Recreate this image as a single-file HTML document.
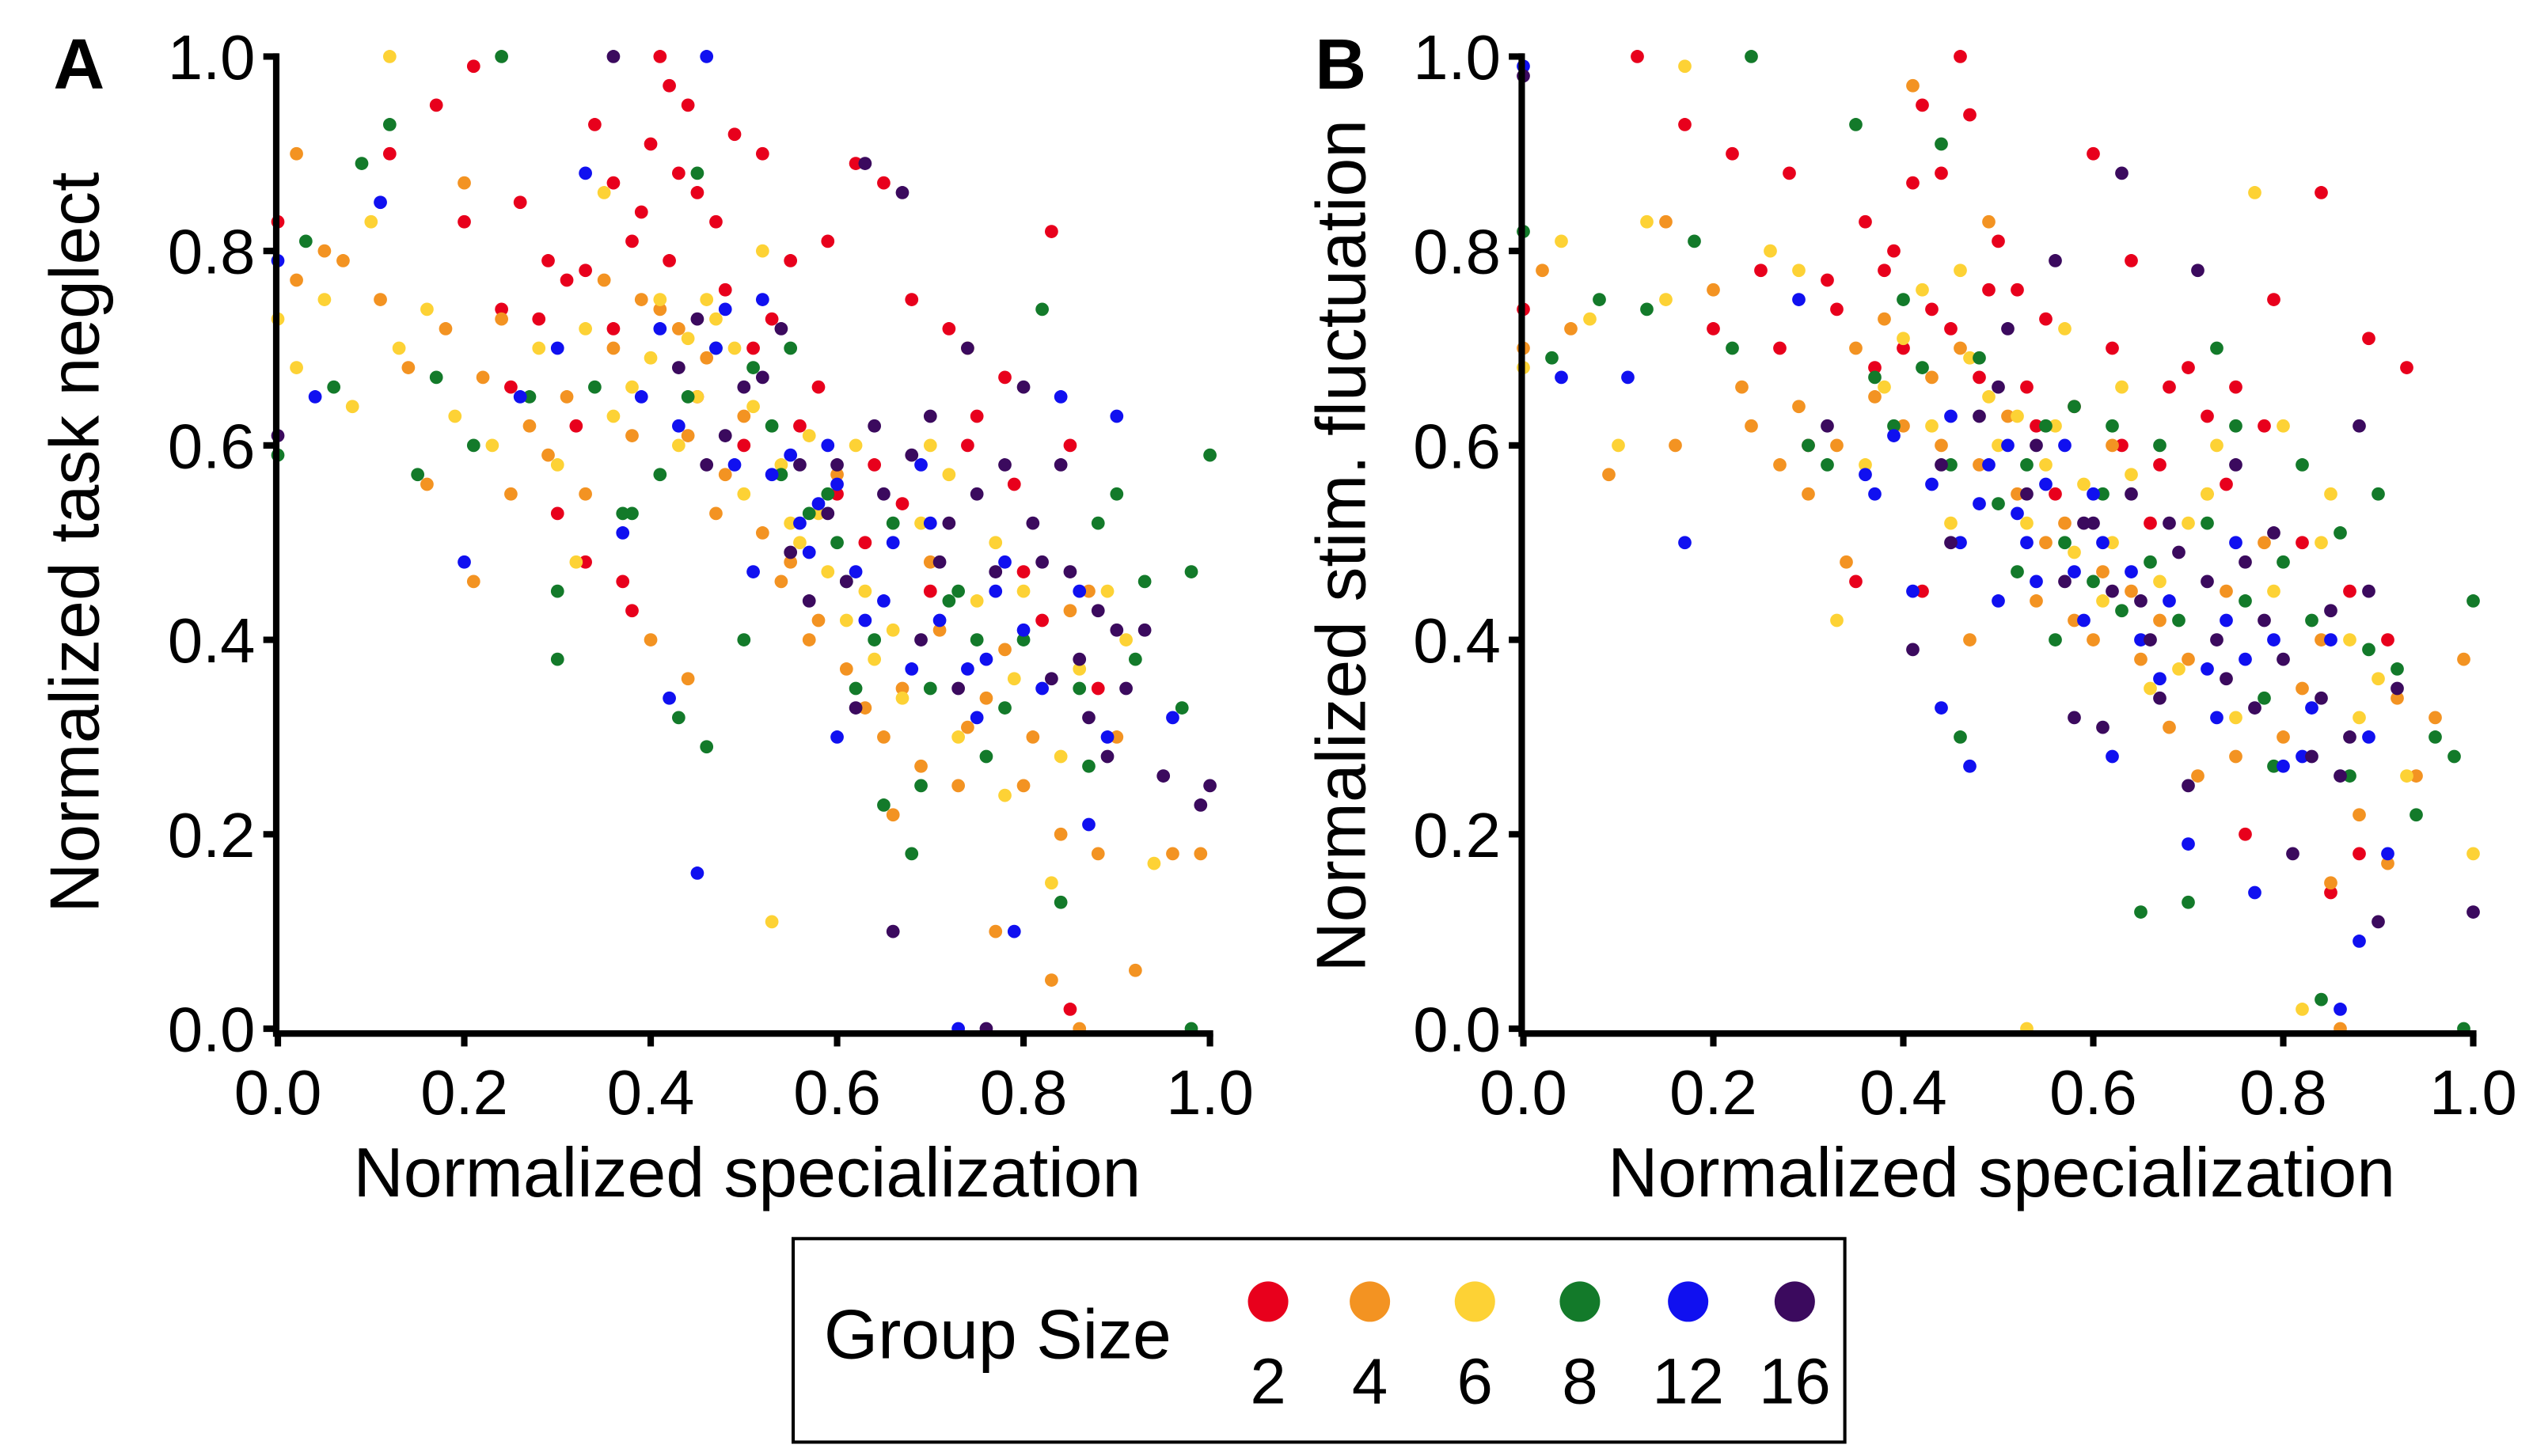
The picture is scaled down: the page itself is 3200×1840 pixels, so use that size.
<!DOCTYPE html>
<html><head><meta charset="utf-8"><style>
html,body{margin:0;padding:0;background:#fff}
svg{display:block}
text{font-family:"Liberation Sans",Arial,sans-serif;fill:#000}
</style></head><body>
<svg id="chart" width="3200" height="1840" viewBox="0 0 1568 901.6" xmlns="http://www.w3.org/2000/svg">
<g id="panelA"></g>
<g id="panelB"></g>
<g id="legend">
<rect x="491" y="767" width="651" height="126" fill="#fff" stroke="#000" stroke-width="2"/>
<text x="510" y="841" font-size="43">Group Size</text>
</g>
</svg>
<script>
const groupLabels = ["2","4","6","8","12","16"];
const groupColors = ["#e8001c","#f39322","#fdd235","#137a2a","#1010f0","#3b0a5e"];
const tickValues = [0,0.2,0.4,0.6,0.8,1.0];
const tickLabels = ["0.0","0.2","0.4","0.6","0.8","1.0"];

const panelA_g2 = [[0,.83],[.17,.95],[.21,.99],[.26,.85],[.29,.79],[.31,.77],[.34,.93],[.36,.87],[.38,.81],[.40,.91],[.41,1.0],[.42,.97],[.44,.95],[.45,.86],[.47,.83],[.49,.92],[.52,.90],[.55,.79],[.59,.81],[.62,.89],[.65,.87],[.68,.75],[.72,.72],[.75,.63],[.78,.67],[.83,.82],[.85,.60],[.53,.73],[.37,.46],[.30,.53],[.33,.48],[.38,.43],[.45,.65],[.50,.60],[.60,.55],[.63,.50],[.70,.45],[.80,.47],[.85,.02],[.58,.66],[.24,.74],[.28,.73],[.33,.78],[.36,.72],[.39,.84],[.42,.79],[.43,.88],[.48,.76],[.51,.70],[.56,.62],[.64,.58],[.67,.54],[.74,.60],[.79,.56],[.82,.42],[.88,.35],[.25,.66],[.32,.62],[.20,.83],[.12,.90]];
const panelA_g4 = [[.02,.77],[.05,.80],[.11,.75],[.16,.56],[.18,.72],[.20,.87],[.22,.67],[.24,.73],[.27,.62],[.31,.65],[.33,.55],[.36,.70],[.38,.61],[.40,.40],[.43,.72],[.46,.69],[.48,.57],[.52,.51],[.55,.48],[.58,.42],[.61,.37],[.63,.33],[.66,.22],[.69,.27],[.71,.41],[.74,.31],[.77,.10],[.80,.25],[.83,.05],[.85,.43],[.88,.18],[.92,.06],[.96,.18],[.99,.18],[.86,0],[.78,.39],[.67,.35],[.25,.55],[.21,.46],[.44,.36],[.02,.90],[.07,.79],[.14,.68],[.29,.59],[.35,.77],[.39,.75],[.41,.74],[.44,.61],[.47,.53],[.50,.63],[.54,.46],[.57,.40],[.60,.57],[.65,.30],[.70,.48],[.73,.25],[.76,.34],[.81,.30],[.84,.20],[.87,.45],[.90,.30]];
const panelA_g6 = [[0,.73],[.02,.68],[.08,.64],[.12,1.0],[.13,.70],[.19,.63],[.28,.70],[.32,.48],[.35,.86],[.38,.66],[.41,.75],[.44,.71],[.46,.75],[.49,.70],[.52,.80],[.53,.11],[.55,.52],[.57,.61],[.59,.47],[.61,.42],[.64,.38],[.67,.34],[.69,.52],[.72,.57],[.74,.70],[.77,.50],[.80,.45],[.83,.15],[.86,.37],[.89,.45],[.94,.17],[.45,.65],[.50,.55],[.62,.60],[.73,.30],[.30,.58],[.05,.75],[.10,.83],[.16,.74],[.23,.60],[.33,.72],[.36,.63],[.40,.69],[.43,.60],[.47,.73],[.51,.64],[.54,.58],[.56,.50],[.58,.53],[.63,.45],[.66,.41],[.70,.60],[.75,.44],[.79,.36],[.84,.28],[.91,.40],[.78,.24]];
const panelA_g8 = [[0,.59],[.03,.81],[.09,.89],[.12,.93],[.15,.57],[.17,.67],[.21,.60],[.24,1.0],[.27,.65],[.30,.38],[.34,.66],[.38,.53],[.41,.57],[.45,.88],[.46,.29],[.50,.40],[.51,.68],[.54,.57],[.57,.53],[.60,.50],[.62,.35],[.65,.23],[.68,.18],[.72,.44],[.75,.40],[.78,.33],[.82,.74],[.84,.13],[.87,.27],[.90,.55],[.93,.46],[.97,.33],[.98,.47],[1.0,.59],[.98,0],[.43,.32],[.55,.70],[.06,.66],[.30,.45],[.37,.53],[.44,.65],[.47,.70],[.53,.62],[.59,.55],[.61,.46],[.64,.40],[.66,.52],[.70,.35],[.73,.45],[.76,.28],[.80,.40],[.86,.35],[.88,.52],[.92,.38],[.69,.25]];
const panelA_g12 = [[0,.79],[.04,.65],[.11,.85],[.20,.48],[.26,.65],[.33,.88],[.37,.51],[.39,.65],[.42,.34],[.45,.16],[.46,1.0],[.47,.70],[.49,.58],[.52,.75],[.55,.59],[.58,.54],[.60,.56],[.62,.47],[.65,.44],[.68,.37],[.70,.52],[.73,0],[.75,.32],[.77,.45],[.80,.41],[.84,.65],[.87,.21],[.90,.63],[.96,.32],[.60,.30],[.74,.37],[.79,.10],[.51,.47],[.43,.62],[.30,.70],[.41,.72],[.48,.74],[.53,.57],[.56,.52],[.57,.49],[.59,.60],[.63,.42],[.66,.50],[.71,.42],[.76,.38],[.78,.48],[.82,.35],[.86,.45],[.89,.30],[.69,.58]];
const panelA_g16 = [[0,.61],[.36,1.0],[.43,.68],[.46,.58],[.48,.61],[.50,.66],[.54,.72],[.56,.58],[.59,.53],[.61,.46],[.63,.89],[.64,.62],[.66,.10],[.68,.59],[.70,.63],[.72,.52],[.74,.70],[.76,0],[.78,.58],[.80,.66],[.82,.48],[.84,.58],[.86,.38],[.88,.43],[.90,.41],[.93,.41],[.95,.26],[.99,.23],[1.0,.25],[.67,.86],[.55,.49],[.62,.33],[.45,.73],[.52,.67],[.57,.44],[.60,.58],[.65,.55],[.69,.40],[.71,.48],[.75,.55],[.77,.47],[.81,.52],[.83,.36],[.85,.47],[.87,.32],[.89,.28],[.91,.35],[.73,.35]];

const panelB_g2 = [[0,.74],[.12,1.0],[.17,.93],[.22,.90],[.25,.78],[.28,.88],[.32,.77],[.36,.83],[.38,.78],[.40,.70],[.41,.87],[.42,.95],[.44,.88],[.46,1.0],[.47,.94],[.50,.81],[.52,.76],[.55,.73],[.60,.90],[.62,.70],[.64,.79],[.68,.66],[.72,.63],[.75,.66],[.79,.75],[.84,.86],[.89,.71],[.93,.68],[.35,.46],[.42,.45],[.48,.67],[.56,.55],[.66,.52],[.76,.20],[.85,.14],[.88,.18],[.30,.60],[.54,.62],[.20,.72],[.27,.70],[.33,.74],[.37,.68],[.39,.80],[.43,.74],[.45,.72],[.49,.76],[.53,.66],[.58,.64],[.63,.60],[.67,.58],[.70,.68],[.74,.56],[.78,.62],[.82,.50],[.87,.45],[.91,.40]];
const panelB_g4 = [[0,.70],[.05,.72],[.09,.57],[.16,.60],[.20,.76],[.24,.62],[.27,.58],[.30,.55],[.34,.48],[.38,.73],[.41,.97],[.44,.60],[.47,.40],[.49,.83],[.52,.55],[.55,.50],[.58,.42],[.61,.47],[.65,.38],[.68,.31],[.71,.26],[.75,.28],[.78,.50],[.82,.35],[.85,.15],[.88,.22],[.91,.17],[.94,.26],[.96,.32],[.99,.38],[.86,0],[.35,.70],[.46,.70],[.62,.60],[.72,.55],[.02,.78],[.15,.83],[.23,.66],[.29,.64],[.33,.60],[.37,.65],[.40,.62],[.43,.67],[.48,.58],[.51,.63],[.54,.44],[.57,.52],[.60,.40],[.64,.45],[.67,.42],[.70,.38],[.74,.45],[.80,.30],[.84,.40],[.92,.34]];
const panelB_g6 = [[0,.68],[.04,.81],[.10,.60],[.13,.83],[.17,.99],[.26,.80],[.33,.42],[.36,.58],[.40,.71],[.43,.62],[.46,.78],[.49,.65],[.52,.63],[.53,0],[.55,.58],[.58,.49],[.61,.44],[.63,.66],[.66,.35],[.69,.37],[.72,.55],[.75,.32],[.77,.86],[.80,.62],[.84,.50],[.87,.40],[.90,.36],[.93,.26],[1.0,.18],[.82,.02],[.45,.52],[.57,.72],[.07,.73],[.15,.75],[.29,.78],[.38,.66],[.42,.76],[.47,.69],[.50,.60],[.53,.52],[.56,.62],[.59,.56],[.62,.50],[.64,.57],[.67,.46],[.70,.52],[.73,.60],[.79,.45],[.85,.55],[.88,.32]];
const panelB_g8 = [[0,.82],[.08,.75],[.13,.74],[.18,.81],[.24,1.0],[.30,.60],[.35,.93],[.37,.67],[.40,.75],[.44,.91],[.46,.30],[.48,.69],[.52,.47],[.55,.62],[.58,.64],[.61,.55],[.63,.43],[.65,.12],[.67,.60],[.70,.13],[.73,.70],[.76,.44],[.79,.27],[.82,.58],[.84,.03],[.86,.51],[.89,.39],[.92,.37],[.96,.30],[.98,.28],[1.0,.44],[.99,0],[.56,.40],[.78,.34],[.03,.69],[.22,.70],[.32,.58],[.39,.62],[.42,.68],[.45,.58],[.50,.54],[.53,.58],[.57,.50],[.60,.46],[.62,.62],[.66,.48],[.69,.42],[.72,.52],[.75,.62],[.80,.48],[.83,.42],[.87,.26],[.90,.55],[.94,.22]];
const panelB_g12 = [[0,.99],[.04,.67],[.17,.50],[.29,.75],[.37,.55],[.39,.61],[.41,.45],[.44,.33],[.45,.63],[.47,.27],[.49,.58],[.52,.53],[.54,.46],[.57,.60],[.59,.42],[.62,.28],[.64,.47],[.67,.36],[.70,.19],[.72,.37],[.75,.50],[.77,.14],[.80,.27],[.83,.33],[.86,.02],[.88,.09],[.91,.18],[.74,.42],[.50,.44],[.60,.55],[.85,.40],[.11,.67],[.36,.57],[.43,.56],[.46,.50],[.48,.54],[.51,.60],[.53,.50],[.55,.56],[.58,.47],[.61,.50],[.65,.40],[.68,.44],[.73,.32],[.76,.38],[.79,.40],[.82,.28],[.89,.30]];
const panelB_g16 = [[0,.98],[.32,.62],[.41,.39],[.45,.50],[.48,.63],[.51,.72],[.54,.60],[.56,.79],[.59,.52],[.61,.31],[.63,.88],[.65,.44],[.67,.34],[.69,.49],[.71,.78],[.73,.40],[.75,.58],[.77,.33],[.79,.51],[.81,.18],[.83,.28],[.85,.43],[.87,.30],[.88,.62],[.90,.11],[.92,.35],[1.0,.12],[.70,.25],[.58,.32],[.44,.58],[.50,.66],[.53,.55],[.57,.46],[.60,.52],[.62,.45],[.64,.55],[.66,.40],[.68,.52],[.72,.46],[.74,.36],[.76,.48],[.78,.42],[.80,.38],[.84,.34],[.86,.26],[.89,.45]];

const NS="http://www.w3.org/2000/svg";
function mk(tag, attrs, parent){const e=document.createElementNS(NS,tag);for(const k in attrs)e.setAttribute(k,attrs[k]);parent.appendChild(e);return e;}

function drawPanel(g, cfg, groups){
  const xs = v => cfg.x0 + v*(cfg.x1-cfg.x0);
  const ys = v => cfg.y0 - v*(cfg.y0-cfg.y1);
  groups.forEach((pts, gi) => {
    pts.forEach(p => {
      const c = mk('circle',{cx:xs(p[0]),cy:ys(p[1]),r:4.1,fill:groupColors[gi]},g);
      
      
    });
  });
  const ax = mk('line',{x1:cfg.x0-1,y1:cfg.y0+3,x2:cfg.x0-1,y2:cfg.y1-2,stroke:'#000','stroke-width':4},g);
  
  
  const bx = mk('line',{x1:cfg.x0-3,y1:cfg.y0+3,x2:cfg.x1+2,y2:cfg.y0+3,stroke:'#000','stroke-width':4},g);
  
  
  tickValues.forEach((v,i) => {
    const ty = mk('line',{x1:cfg.x0-9,y1:ys(v),x2:cfg.x0,y2:ys(v),stroke:'#000','stroke-width':4},g);
    
    
    const tx = mk('line',{x1:xs(v),y1:cfg.y0+3,x2:xs(v),y2:cfg.y0+11,stroke:'#000','stroke-width':4},g);
    
    
    const yl = mk('text',{x:cfg.x0-14,y:ys(v)+14,'font-size':39,'text-anchor':'end'},g);
    yl.textContent = tickLabels[i];
    
    
    const xl = mk('text',{x:xs(v),y:cfg.y0+53,'font-size':39,'text-anchor':'middle'},g);
    xl.textContent = tickLabels[i];
    
    
  });
  const xt = mk('text',{x:(cfg.x0+cfg.x1)/2+2,y:741,'font-size':43,'text-anchor':'middle'},g);
  xt.textContent = 'Normalized specialization';
  
  
  const yt = mk('text',{x:0,y:0,'font-size':43,'text-anchor':'middle',transform:`translate(${cfg.ylx},${cfg.yly}) rotate(-90)`},g);
  yt.textContent = cfg.ytitle;
  
  
  const pl = mk('text',{x:cfg.lx,y:55,'font-size':44,'font-weight':'bold'},g);
  pl.textContent = cfg.letter;
  
  
}

drawPanel(document.getElementById('panelA'),
  {x0:172,x1:749,y0:637,y1:35,ylx:61,yly:336,ytitle:'Normalized task neglect',lx:33,letter:'A'},
  [panelA_g2,panelA_g4,panelA_g6,panelA_g8,panelA_g12,panelA_g16]);
drawPanel(document.getElementById('panelB'),
  {x0:943,x1:1531,y0:637,y1:35,ylx:845,yly:338,ytitle:'Normalized stim. fluctuation',lx:814,letter:'B'},
  [panelB_g2,panelB_g4,panelB_g6,panelB_g8,panelB_g12,panelB_g16]);

const leg = document.getElementById('legend');
const legX = [785,848,913,978,1045,1111];
groupLabels.forEach((lab,i) => {
  const c = mk('circle',{cx:legX[i],cy:806,r:12.5,fill:groupColors[i]},leg);
  
  
  const t = mk('text',{x:legX[i],y:869,'font-size':40,'text-anchor':'middle'},leg);
  t.textContent = lab;
  
  
});
</script>
</body></html>
